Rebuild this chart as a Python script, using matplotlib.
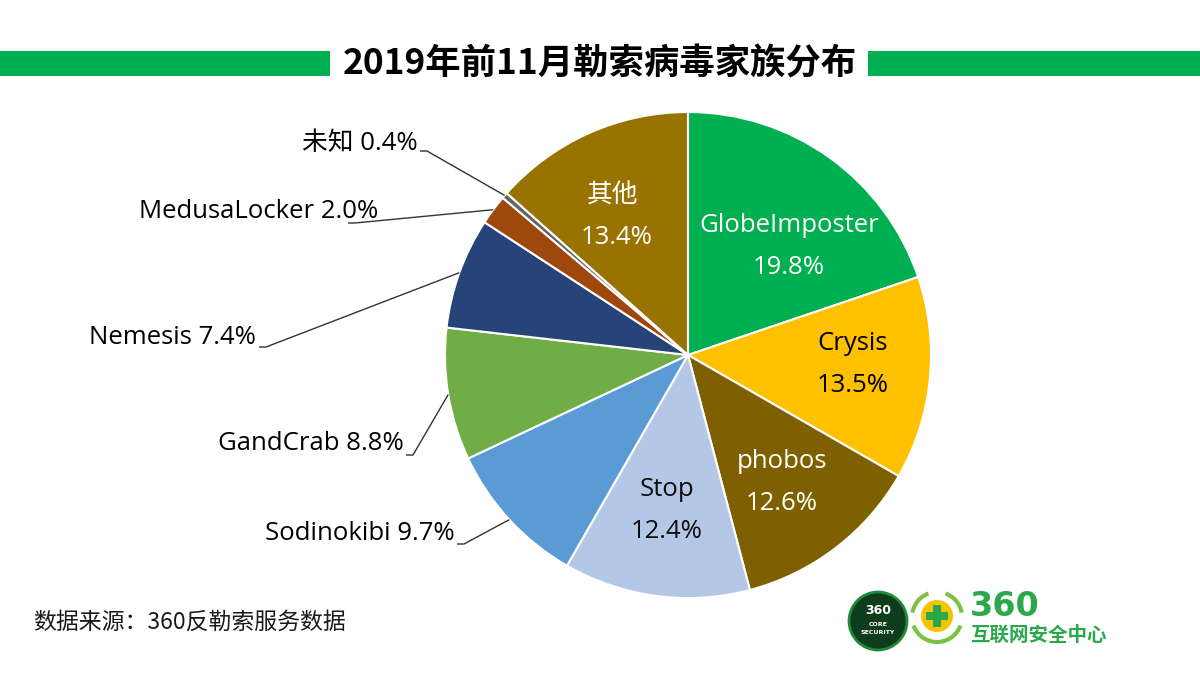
import numpy as np
import matplotlib
matplotlib.use("Agg")
import matplotlib.pyplot as plt
from matplotlib.patches import Circle, Rectangle, Arc

# ---- data ----
families = ["GlobeImposter", "Crysis", "phobos", "Stop", "Sodinokibi",
            "GandCrab", "Nemesis", "MedusaLocker", "未知", "其他"]
shares = [19.8, 13.5, 12.6, 12.4, 9.7, 8.8, 7.4, 2.0, 0.4, 13.4]
colors = ["#00B050", "#FFC000", "#7F6000", "#B4C7E7", "#5B9BD5",
          "#70AD47", "#264478", "#9E480E", "#636363", "#997300"]
title = "2019年前11月勒索病毒家族分布"
source = "数据来源：360反勒索服务数据"

W, H = 1200, 675
fig = plt.figure(figsize=(12, 6.75), dpi=100)
ax = fig.add_axes([0, 0, 1, 1])

def Y(y):
    return H - y

LAT = ["Open Sans", "Noto Sans CJK SC", "DejaVu Sans"]
CJK = ["Noto Sans CJK SC", "DejaVu Sans"]

cx, cy, R = 688, 355, 243
wedges, _ = ax.pie(shares, colors=colors, startangle=90, counterclock=False,
                   center=(cx, Y(cy)), radius=R,
                   wedgeprops=dict(edgecolor="white", linewidth=1.5))
ax.set_xlim(0, W)
ax.set_ylim(0, H)
ax.set_aspect("equal")
ax.axis("off")

# inside labels: (index, centre x, centre y of name line, text colour)
inside = {0: (789, 226, "white"), 1: (853, 344, "black"), 2: (782, 462, "white"),
          3: (667, 490, "#0d0d0d"), 9: (613, 196, "white")}
fs = 18.5
for i, (x, y, c) in inside.items():
    ax.text(x, Y(y), families[i], ha="center", va="center", color=c,
            fontsize=fs, family=LAT)
    ax.text(x + (4 if i == 9 else 0), Y(y + 42), f"{shares[i]:.1f}%", ha="center",
            va="center", color=c, fontsize=fs, family=LAT)

# outside labels: index -> (right x, centre y, leader start x, leader start y)
outside = {8: (418, 143, 420, 151), 7: (378, 212, 348, 223),
           6: (256, 337, 259, 347), 5: (404, 443, 406, 455),
           4: (455, 533, 457, 544)}
for i, (rx, ty, lx, ly) in outside.items():
    w = wedges[i]
    mid = np.deg2rad((w.theta1 + w.theta2) / 2)
    px = cx + R * np.cos(mid)
    py = Y(cy) + R * np.sin(mid)
    ax.plot([lx, lx + 7, px], [Y(ly), Y(ly), py], color="#333333", lw=1.0,
            solid_capstyle="butt")
    ax.text(rx, Y(ty), f"{families[i]} {shares[i]:.1f}%", ha="right", va="center",
            color="black", fontsize=fs, family=LAT)

# title with green bars
ax.add_patch(Rectangle((0, Y(76)), 330, 25, color="#00B050", lw=0))
ax.add_patch(Rectangle((868, Y(76)), W - 868, 25, color="#00B050", lw=0))
ax.text(600, Y(64), title, ha="center", va="center", fontsize=25.5,
        fontweight="bold", family=CJK, color="black")

# source
ax.text(33, Y(622), source, ha="left", va="center", fontsize=16.5,
        family=CJK, color="#1a1a1a")

# logo (approximation)
ax.add_patch(Circle((878, Y(621)), 29, color="#0f3d1c", lw=0))
ax.add_patch(Circle((878, Y(621)), 29, fill=False, ec="#1e8a3a", lw=2))
ax.text(878, Y(611), "360", ha="center", va="center", fontsize=9,
        fontweight="bold", color="white", family=["DejaVu Sans"])
ax.text(878, Y(624), "CORE", ha="center", va="center", fontsize=4.5,
        fontweight="bold", color="white")
ax.text(878, Y(632), "SECURITY", ha="center", va="center", fontsize=4.5,
        fontweight="bold", color="white")
ax.add_patch(Arc((937, Y(617)), 50, 50, theta1=200, theta2=340, color="#7cc242", lw=3))
ax.add_patch(Arc((937, Y(617)), 50, 50, theta1=110, theta2=170, color="#7cc242", lw=3))
ax.add_patch(Arc((937, Y(617)), 50, 50, theta1=10, theta2=70, color="#7cc242", lw=3))
ax.add_patch(Circle((937, Y(616)), 16, color="#f5c400", lw=0))
ax.add_patch(Rectangle((933, Y(627)), 8, 22, color="#2aa84a", lw=0))
ax.add_patch(Rectangle((926, Y(620)), 22, 8, color="#2aa84a", lw=0))
ax.text(970, Y(607), "360", ha="left", va="center", fontsize=24,
        fontweight="bold", color="#2aa84a", family=["DejaVu Sans"])
ax.text(970, Y(635), "互联网安全中心", ha="left", va="center", fontsize=14,
        fontweight="bold", color="#2aa84a", family=CJK)

fig.savefig("out.png", dpi=100)
